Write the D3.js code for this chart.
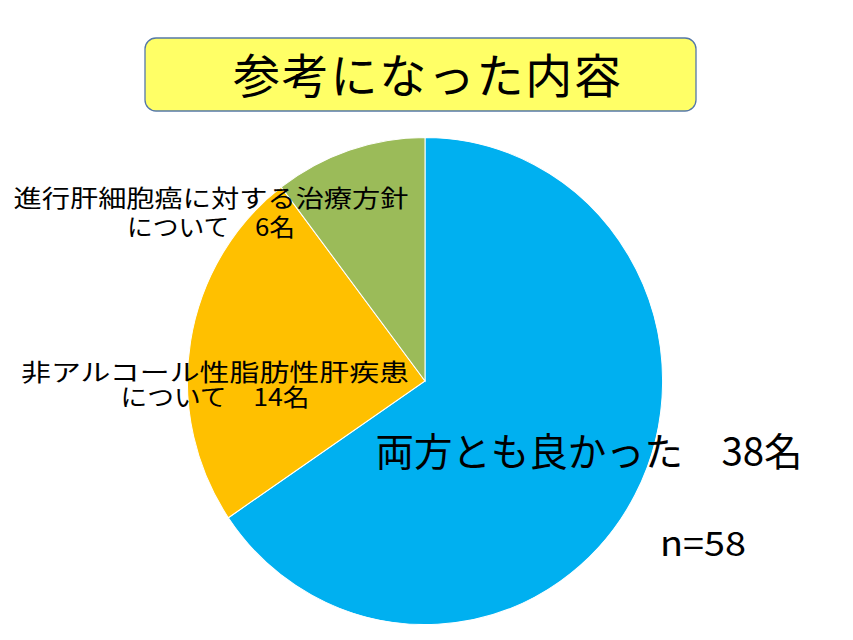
<!DOCTYPE html>
<html>
<head>
<meta charset="utf-8">
<script src="https://cdn.jsdelivr.net/npm/d3@7"></script>
<style>
  body { margin: 0; background: #fff; }
  text { font-family: "Noto Sans CJK JP", sans-serif; fill: #000; }
</style>
</head>
<body>
<div id="chart"></div>
<script>
var title = "参考になった内容";
var categories = ["両方とも良かった", "非アルコール性脂肪性肝疾患について", "進行肝細胞癌に対する治療方針について"];
var counts = [38, 14, 6];
var colors = ["#00B0F0", "#FFC000", "#9BBB59"];
var total = "n=58";

var fullWidth = 853;
var fullHeight = 640;

var cx = 425, cy = 381;
var radius = 240;

var svg = d3.select("#chart").append("svg")
    .attr("width", fullWidth)
    .attr("height", fullHeight);

// title box
svg.append("rect")
    .attr("x", 145).attr("y", 38)
    .attr("width", 551).attr("height", 73)
    .attr("rx", 11).attr("ry", 11)
    .style("fill", "#FFFF66")
    .style("stroke", "#5578A8")
    .style("stroke-width", 1.3);

svg.append("text")
    .attr("x", 427).attr("y", 93)
    .attr("text-anchor", "middle")
    .style("font-size", "47px")
    .attr("textLength", 388)
    .text(title);

// pie
var pie = d3.pie().sort(null).value(d => d);
var arc = d3.arc().innerRadius(0).outerRadius(radius);

var pieGroup = svg.append("g")
    .attr("transform", "translate(" + cx + "," + cy + ") scale(0.99,1.015)");

pieGroup.selectAll("path")
    .data(pie(counts))
    .enter().append("path")
    .attr("d", arc)
    .style("fill", (d, i) => colors[i])
    .style("stroke", "#fff")
    .style("stroke-width", 1);

// labels
var labels = [
    { lines: [categories[0] + "　" + counts[0] + "名"], x: 589, y: [466], size: 39, len: [427] },
    { lines: ["非アルコール性脂肪性肝疾患", "について　" + counts[1] + "名"], x: 215, y: [381, 406], size: 24, len: [388, 189] },
    { lines: ["進行肝細胞癌に対する治療方針", "について　" + counts[2] + "名"], x: 211, y: [207, 236], size: 24, len: [395, 168] }
];

labels.forEach(function (l) {
    l.lines.forEach(function (line, j) {
        svg.append("text")
            .attr("x", l.x).attr("y", l.y[j])
            .attr("text-anchor", "middle")
            .style("font-size", l.size + "px")
            .attr("textLength", l.len[j])
            .attr("lengthAdjust", "spacingAndGlyphs")
            .text(line);
    });
});

svg.append("text")
    .attr("x", 660).attr("y", 556)
    .style("font-size", "34px")
    .attr("textLength", 86)
    .attr("lengthAdjust", "spacingAndGlyphs")
    .text(total);
</script>
</body>
</html>
